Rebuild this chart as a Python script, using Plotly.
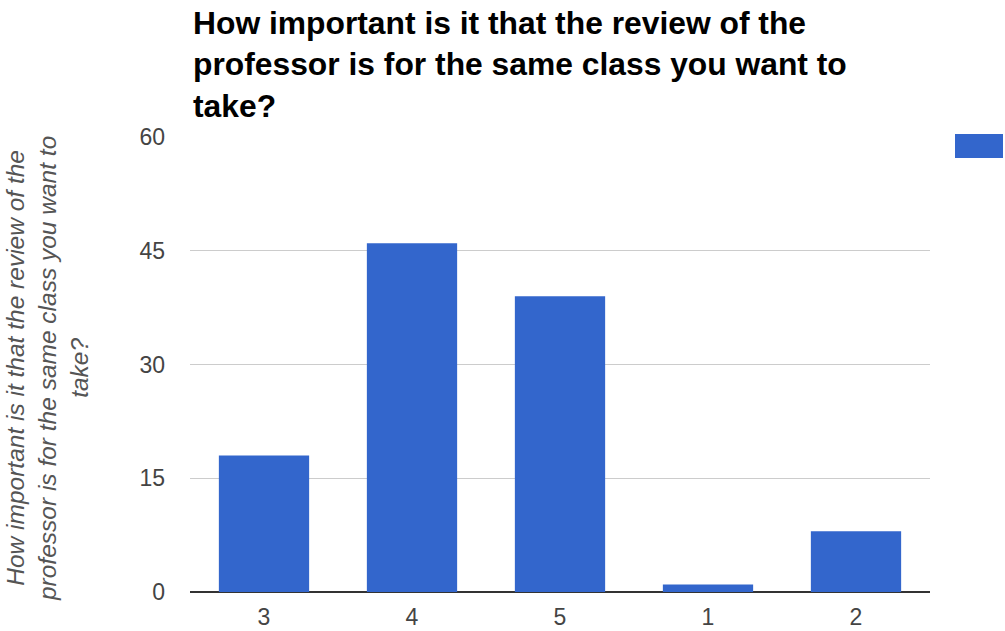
import plotly.graph_objects as go

# Survey responses: rating given vs. number of respondents
ratings = ["3", "4", "5", "1", "2"]
counts = [18, 46, 39, 1, 8]
y_ticks = [0, 15, 30, 45, 60]

question = "How important is it that the review of the<br>professor is for the same class you want to<br>take?"

FONT = "Arial, Liberation Sans, sans-serif"
BAR_BLUE = "#3366cc"

W, H = 1005, 631
L, R, T, B = 190, 75, 137, 39
plot_w = W - L - R
plot_h = H - T - B

fig = go.Figure(
    go.Bar(
        x=ratings,
        y=counts,
        marker=dict(color=BAR_BLUE, line=dict(width=0)),
        width=0.61,
        showlegend=False,
        hoverinfo="x+y",
    )
)

fig.update_layout(
    width=W,
    height=H,
    margin=dict(l=L, r=R, t=T, b=B, pad=0),
    paper_bgcolor="white",
    plot_bgcolor="white",
    font=dict(family=FONT, color="#444"),
    title=dict(
        text="<b>" + question + "</b>",
        font=dict(family=FONT, size=31.8, color="#000"),
        x=193 / W,
        xref="container",
        xanchor="left",
        y=1 - 34 / H,
        yref="container",
        yanchor="top",
    ),
    bargap=0.39,
)

fig.update_xaxes(
    type="category",
    categoryorder="array",
    categoryarray=ratings,
    showgrid=False,
    showline=False,
    ticks="",
    automargin=False,
    tickfont=dict(family=FONT, size=23, color="#444"),
    ticklabelstandoff=9,
)

fig.update_yaxes(
    range=[0, 60],
    tickvals=y_ticks,
    showgrid=True,
    gridcolor="#cccccc",
    gridwidth=1,
    zeroline=True,
    zerolinecolor="#333333",
    zerolinewidth=1.5,
    showline=False,
    ticks="",
    automargin=False,
    tickfont=dict(family=FONT, size=23, color="#444"),
    ticklabelstandoff=24,
)

# Rotated axis caption
fig.add_annotation(
    text="<i>" + question + "</i>",
    textangle=-90,
    xref="paper",
    yref="paper",
    x=(47 - L) / plot_w,
    y=0.49,
    xanchor="center",
    yanchor="middle",
    showarrow=False,
    font=dict(family=FONT, size=24.5, color="#555"),
)

# Legend swatch for the single series
fig.add_shape(
    type="rect",
    xref="paper",
    yref="paper",
    x0=(955 - L) / plot_w,
    x1=(1003 - L) / plot_w,
    y0=(H - B - 158) / plot_h,
    y1=(H - B - 134) / plot_h,
    fillcolor=BAR_BLUE,
    line=dict(width=0),
    layer="above",
)

fig.write_html("out.html")
